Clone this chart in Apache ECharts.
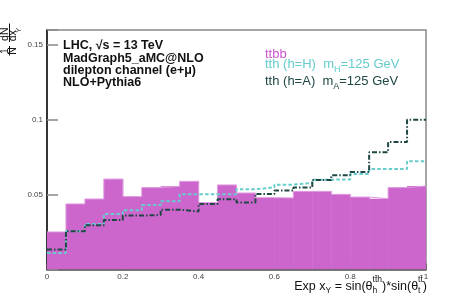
<!DOCTYPE html>
<html><head><meta charset="utf-8">
<script src="https://cdn.jsdelivr.net/npm/echarts@6/dist/echarts.min.js"></script>
<style>html,body{margin:0;padding:0;background:#fff}#c{width:473px;height:300px}</style>
</head><body><div id="c"></div>
<script>
// ---- data ----
const binEdges = [0,0.05,0.1,0.15,0.2,0.25,0.3,0.35,0.4,0.45,0.5,0.55,0.6,0.65,0.7,0.75,0.8,0.85,0.9,0.95,1.0];
const ttbb = [0.0251,0.0438,0.0471,0.0604,0.0487,0.0547,0.0556,0.0589,0.0447,0.0565,0.0511,0.0480,0.0478,0.0522,0.0522,0.0502,0.0484,0.0473,0.0547,0.0558];
const tthH = [0.0111,0.0256,0.0304,0.0371,0.0396,0.0431,0.0456,0.0502,0.0502,0.0502,0.0536,0.0549,0.0567,0.0578,0.0600,0.0602,0.0638,0.0671,0.0671,0.0724];
const tthA = [0.0133,0.0256,0.0296,0.0331,0.0360,0.0364,0.0400,0.0387,0.0438,0.0469,0.0447,0.0504,0.0527,0.0547,0.0598,0.0629,0.0651,0.0784,0.0851,0.1000];
const xTickValues = [0,0.2,0.4,0.6,0.8,1];
const xTickLabels = ['0','0.2','0.4','0.6','0.8','1'];
const yTickValues = [0.05,0.1,0.15];
const yTickLabels = ['0.05','0.1','0.15'];
const infoLines = ['LHC, √s = 13 TeV','MadGraph5_aMC@NLO','dilepton channel (e+μ)','NLO+Pythia6'];
const legendNames = ['ttbb','tth (h=H)','tth (h=A)'];
const legendMassSub = ['', 'H', 'A'];
const massText = '=125 GeV';

// ---- style ----
const FONT = '"Liberation Sans", Arial, Helvetica, sans-serif';
const C_TTBB = '#cc66cc', C_TTBB_TXT = '#cc55cc', C_H = '#66cccc', C_A = '#1f4744';

const ctx = document.createElement('canvas').getContext('2d');
function tw(t, size, weight) { ctx.font = (weight || 'normal') + ' ' + size + 'px ' + FONT; return ctx.measureText(t).width; }
const MID = 0.3465;
function txt(t, x, baseline, size, color, weight, align) {
  return { type: 'text', x: x, y: baseline - MID * size, silent: true, z: 50,
    style: { text: t, fontSize: size, fontFamily: FONT, fontWeight: weight || 'normal', fill: color,
      align: align || 'left', verticalAlign: 'middle' } };
}
// layout segments: {t,s,dy} or {stack:[...]}
function layout(segs, x0, baseline, color, weight) {
  const out = []; let x = x0;
  segs.forEach(sg => {
    if (sg.stack) {
      let w = 0;
      sg.stack.forEach(p => { out.push(txt(p.t, x, baseline + p.dy, p.s, color, weight)); w = Math.max(w, tw(p.t, p.s, weight)); });
      x += w;
    } else {
      out.push(txt(sg.t, x, baseline + (sg.dy || 0), sg.s, color, weight));
      x += tw(sg.t, sg.s, weight);
    }
  });
  return { els: out, width: x - x0 };
}
function segWidth(segs, weight) { return layout(segs, 0, 0, '#000', weight).width; }

const graphics = [];
// info text top-left
const infoBase = [50.3, 63.0, 75.3, 86.5];
infoLines.forEach((l, i) => graphics.push(txt(l, 63, infoBase[i], 12.5, '#111', 'bold')));
// legend
const legColors = [C_TTBB_TXT, C_H, C_A];
const legBase = [58.5, 68.8, 86.0];
legendNames.forEach((n, i) => {
  let segs;
  if (i === 0) segs = [{ t: n, s: 13 }];
  else segs = [{ t: n + '  m', s: 13 }, { t: legendMassSub[i], s: 9, dy: 4 }, { t: massText, s: 13 }];
  layout(segs, 265, legBase[i], legColors[i]).els.forEach(e => graphics.push(e));
});
// x-axis title
const xSegs = [
  { t: 'Exp x', s: 12.5 }, { t: 'Y', s: 8.5, dy: 3.5 }, { t: ' = sin(θ', s: 12.5 },
  { stack: [{ t: 'tt\u0304h', s: 8.5, dy: -7.5 }, { t: 'h', s: 8.5, dy: 3.5 }] },
  { t: ')*sin(θ', s: 12.5 },
  { stack: [{ t: 'tt\u0304', s: 8.5, dy: -7.5 }, { t: 't', s: 8.5, dy: 3.5 }] },
  { t: ')', s: 12.5 }
];
const xw = segWidth(xSegs);
layout(xSegs, 427 - xw, 290.5, '#111').els.forEach(e => graphics.push(e));
// y-axis title (rotated fraction)
function rtxt(t, cx, cy, size) {
  return { type: 'text', x: cx, y: cy, rotation: Math.PI / 2, silent: true, z: 50,
    style: { text: t, fontSize: size, fontFamily: FONT, fill: '#111', align: 'center', verticalAlign: 'middle' } };
}
graphics.push(rtxt('1', 5, 51, 10.5));
graphics.push(rtxt('N', 13.6, 51, 10.5));
graphics.push(rtxt('dN', 5, 34.2, 10.5));
graphics.push(rtxt('dx', 13.6, 35.8, 10.5));
graphics.push(rtxt('Y', 19.2, 30.3, 7.5));
graphics.push({ type: 'line', silent: true, z: 50, shape: { x1: 9.5, y1: 46, x2: 9.5, y2: 55.5 }, style: { stroke: '#111', lineWidth: 1 } });
graphics.push({ type: 'line', silent: true, z: 50, shape: { x1: 9.5, y1: 23.5, x2: 9.5, y2: 42 }, style: { stroke: '#111', lineWidth: 1 } });

function stepData(vals) { return binEdges.map((e, i) => [e, vals[Math.min(i, vals.length - 1)]]); }

const chart = echarts.init(document.getElementById('c'), null, { renderer: 'canvas' });
chart.setOption({
  animation: false,
  backgroundColor: '#fff',
  grid: { left: 47, right: 47, top: 30, bottom: 30.5, show: true, borderColor: '#888', borderWidth: 1.5, backgroundColor: 'transparent' },
  xAxis: {
    type: 'value', min: 0, max: 1, interval: 0.2,
    axisLine: { show: true, onZero: false, lineStyle: { color: '#555', width: 1.5 } },
    axisTick: { show: true, inside: true, length: 6, lineStyle: { color: '#555', width: 1.5 } },
    axisLabel: { fontSize: 8, color: '#444', margin: 3, fontFamily: FONT,
      formatter: v => { const i = xTickValues.findIndex(t => Math.abs(t - v) < 1e-9); return i < 0 ? '' : xTickLabels[i]; } },
    splitLine: { show: false }
  },
  yAxis: {
    type: 'value', min: 0, max: 0.16, interval: 0.05,
    axisLine: { show: true, onZero: false, lineStyle: { color: '#111', width: 1.5 } },
    axisTick: { show: true, inside: true, length: 11, lineStyle: { color: '#888', width: 1.5 } },
    axisLabel: { fontSize: 8, color: '#444', margin: 4, fontFamily: FONT,
      formatter: v => { const i = yTickValues.findIndex(t => Math.abs(t - v) < 1e-9); return i < 0 ? '' : yTickLabels[i]; } },
    splitLine: { show: false }
  },
  series: [
    { type: 'custom', name: 'ttbb', z: 1, silent: true, clip: true,
      data: ttbb.map((v, i) => [binEdges[i], binEdges[i + 1], v]),
      encode: { x: [0, 1], y: 2 },
      renderItem: (params, api) => {
        const p0 = api.coord([api.value(0), api.value(2)]);
        const p1 = api.coord([api.value(1), 0]);
        return { type: 'rect', shape: { x: p0[0], y: p0[1], width: p1[0] - p0[0] + 0.5, height: p1[1] - p0[1] },
          style: { fill: C_TTBB } };
      } },
    { type: 'line', name: 'ttbb edge', z: 2, step: 'end', symbol: 'none', silent: true,
      data: stepData(ttbb), lineStyle: { color: '#e09be0', width: 1 } },
    { type: 'line', name: 'tth H', z: 3, step: 'end', symbol: 'none', silent: true,
      data: stepData(tthH), lineStyle: { color: C_H, width: 2, type: [3.5, 2.2] } },
    { type: 'line', name: 'tth A', z: 4, step: 'end', symbol: 'none', silent: true,
      data: stepData(tthA), lineStyle: { color: C_A, width: 2, type: [5, 2, 1.5, 2] } }
  ],
  graphic: graphics
});
</script>
</body></html>
